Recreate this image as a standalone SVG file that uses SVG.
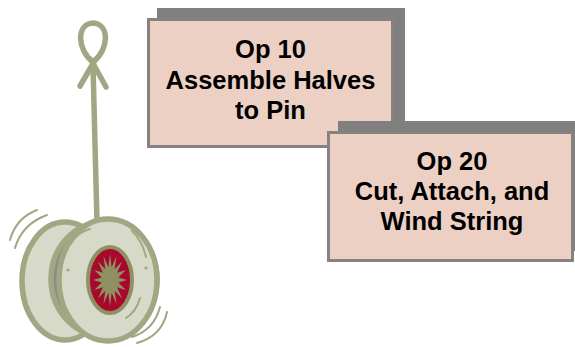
<svg xmlns="http://www.w3.org/2000/svg" width="575" height="347" viewBox="0 0 575 347">
  <style>
    .shadow { fill: #808080; }
    .box { fill: #EDD0C4; stroke: #878181; stroke-width: 3; }
    .label { font-family: "Liberation Sans", Arial, sans-serif; font-weight: bold; font-size: 25.5px; fill: #000; text-anchor: middle; }
    .rim { stroke: #A3A683; stroke-width: 5.5; stroke-linejoin: round; stroke-linecap: round; }
    .thin { fill: none; stroke: #A3A683; stroke-width: 2; stroke-linecap: round; }
  </style>

  <!-- yo-yo illustration -->
  <g id="yoyo">
    <!-- finger loop, knot and string -->
    <path class="rim" fill="none" d="M93,62 C77,50 76,24 93,23 C110,24 109,50 93,62"/>
    <path class="rim" fill="none" d="M91,67 L80,86 M95,67 L106,87"/>
    <ellipse cx="93" cy="66" rx="4" ry="5" fill="#A3A683"/>
    <path class="rim" fill="none" d="M93,66 L97,222"/>

    <!-- motion lines -->
    <path class="thin" d="M10,240 Q16,218 37,210"/>
    <path class="thin" d="M15,248 Q22,224 47,215"/>
    <path class="thin" d="M132,337 Q154,330 160,307"/>
    <path class="thin" d="M137,343 Q162,336 167,312"/>

    <!-- back disc -->
    <ellipse class="rim" cx="65" cy="281" rx="43" ry="59" fill="#D7DAC8"/>
    <!-- axle gap -->
    <ellipse class="rim" cx="104" cy="279" rx="53" ry="57" fill="#8C8C8C" stroke-width="4"/>
    <!-- front disc -->
    <ellipse class="rim" cx="108" cy="280" rx="49" ry="61" fill="#D7DAC8"/>

    <!-- surface highlights -->
    <path class="thin" d="M71,243 Q78,232 90,229"/>
    <path class="thin" d="M132,231 Q142,240 146,257"/>
    <path class="thin" d="M140,298 Q136,312 126,318"/>
    <circle cx="68" cy="270" r="1.6" fill="#A3A683"/>
    <circle cx="146" cy="268" r="1.6" fill="#A3A683"/>

    <!-- hub with sunburst -->
    <ellipse cx="110" cy="280" rx="22" ry="33" fill="#A8082C" stroke="#8F9164" stroke-width="4"/>
    <polygon fill="#8F9164" points="127,280 118.34,282.54 125.71,289.95 117.07,287.22 122.02,298.38 114.72,290.81 116.51,304.02 111.66,292.75 110,306 108.34,292.75 103.49,304.02 105.28,290.81 97.98,298.38 102.93,287.22 94.29,289.95 101.66,282.54 93,280 101.66,277.46 94.29,270.05 102.93,272.78 97.98,261.62 105.28,269.19 103.49,255.98 108.34,267.25 110,254 111.66,267.25 116.51,255.98 114.72,269.19 122.02,261.62 117.07,272.78 125.71,270.05 118.34,277.46"/>
  </g>

  <!-- operation 10 -->
  <g id="op10">
    <rect class="shadow" x="157" y="8" width="248" height="129"/>
    <rect class="box" x="148.5" y="19.5" width="244" height="127"/>
    <text class="label" x="270.5" y="58">Op 10</text>
    <text class="label" x="270.5" y="89">Assemble Halves</text>
    <text class="label" x="270.5" y="119">to Pin</text>
  </g>

  <!-- operation 20 -->
  <g id="op20">
    <rect class="shadow" x="338" y="121" width="248" height="130"/>
    <rect class="box" x="328.5" y="132.5" width="244" height="128"/>
    <text class="label" x="452" y="170">Op 20</text>
    <text class="label" x="452" y="200">Cut, Attach, and</text>
    <text class="label" x="452" y="230">Wind String</text>
  </g>
</svg>
